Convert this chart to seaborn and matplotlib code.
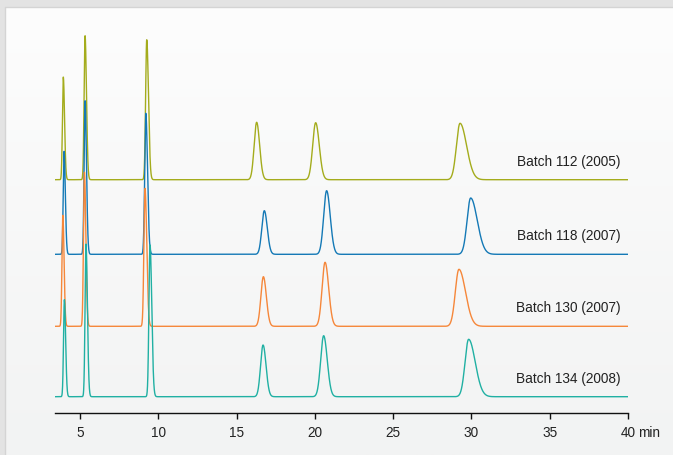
import numpy as np
import pandas as pd
import matplotlib
matplotlib.use("Agg")
import matplotlib.pyplot as plt
from matplotlib.transforms import blended_transform_factory
import seaborn as sns

# ---- data ----
batches = ["Batch 112 (2005)", "Batch 118 (2007)", "Batch 130 (2007)", "Batch 134 (2008)"]
offsets = [217.0, 142.4, 70.4, 0.0]
rt_112 = [3.93, 5.32, 9.26, 16.28, 20.05, 29.27]
h_112 = [102.7, 144.0, 140.0, 57.4, 57.0, 56.4]
rt_118 = [3.98, 5.32, 9.20, 16.77, 20.75, 29.95]
h_118 = [103.0, 153.6, 141.0, 43.6, 63.6, 56.3]
rt_130 = [3.90, 5.28, 9.15, 16.71, 20.65, 29.20]
h_130 = [111.0, 154.0, 138.0, 49.6, 64.0, 57.0]
rt_134 = [4.00, 5.38, 9.47, 16.69, 20.56, 29.82]
h_134 = [97.0, 152.7, 151.7, 51.7, 61.0, 57.4]
width_left = [0.055, 0.06, 0.07, 0.16, 0.19, 0.23]
width_right = [0.08, 0.09, 0.11, 0.19, 0.23, 0.42]
tick_values = [5, 10, 15, 20, 25, 30, 35, 40]
tick_labels = ["5", "10", "15", "20", "25", "30", "35", "40"]
x_start, x_end = 3.4, 40.0

colors = ["#a4ac1c", "#1479b6", "#f5873a", "#20b0a3"]

rts = [rt_112, rt_118, rt_130, rt_134]
hs = [h_112, h_118, h_130, h_134]

t = np.linspace(x_start, x_end, 5000)
frames = []
for name, off, rt, hh in zip(batches, offsets, rts, hs):
    sig = np.zeros_like(t)
    for r, h, sl, sr in zip(rt, hh, width_left, width_right):
        s = np.where(t < r, sl, sr)
        sig += h * np.exp(-0.5 * ((t - r) / s) ** 2)
    frames.append(pd.DataFrame({"time": t, "signal": sig + off, "batch": name}))
df = pd.concat(frames, ignore_index=True)

# ---- figure ----
W, H = 673, 456
fig = plt.figure(figsize=(W / 100, H / 100), dpi=100)
fig.patch.set_facecolor("#e3e3e3")

# background panel with soft gradient
bg = fig.add_axes([0, 0, 1, 1], zorder=-5)
bg.set_xlim(0, W)
bg.set_ylim(0, H)
bg.axis("off")
grad = np.linspace(0, 1, 256)[:, None]
cmap = matplotlib.colors.LinearSegmentedColormap.from_list("g", ["#f2f3f3", "#fdfdfd"])
bg.imshow(grad, extent=[5, W + 2, 0, H - 8], origin="lower", aspect="auto", cmap=cmap)
bg.plot([5, 5, W + 2], [0, H - 8, H - 8], color="#d4d4d4", lw=1.0)

ax = fig.add_axes([55 / W, 42 / H, 573 / W, 394 / H])
ax.patch.set_alpha(0)
sns.lineplot(data=df, x="time", y="signal", hue="batch", hue_order=batches,
             palette=colors, estimator=None, sort=False, lw=1.0, ax=ax, legend=False)

ax.set_xlim(x_start, x_end)
ax.set_ylim(-16.3, 377.7)
for s in ["top", "right", "left"]:
    ax.spines[s].set_visible(False)
ax.spines["bottom"].set_color("#111111")
ax.spines["bottom"].set_linewidth(1.0)
ax.set_yticks([])
ax.set_xticks(tick_values)
ax.set_xticklabels(tick_labels, fontsize=9.8, family="Liberation Sans", color="#222222")
ax.tick_params(axis="x", length=4.5, width=1.0, color="#111111", pad=4.5)
ax.set_xlabel("")
ax.set_ylabel("")

tr = blended_transform_factory(ax.transData, ax.transAxes)
ax.annotate("min", xy=(40, 0), xycoords=tr, xytext=(7.5, -9.0), textcoords="offset points",
            ha="left", va="top", fontsize=9.8, family="Liberation Sans", color="#222222",
            annotation_clip=False)

for name, off in zip(batches, offsets):
    ax.text(39.55, off + 19, name, ha="right", va="center", fontsize=9.8,
            family="Liberation Sans", color="#222222")

fig.savefig("out.png", dpi=100, facecolor=fig.get_facecolor())
